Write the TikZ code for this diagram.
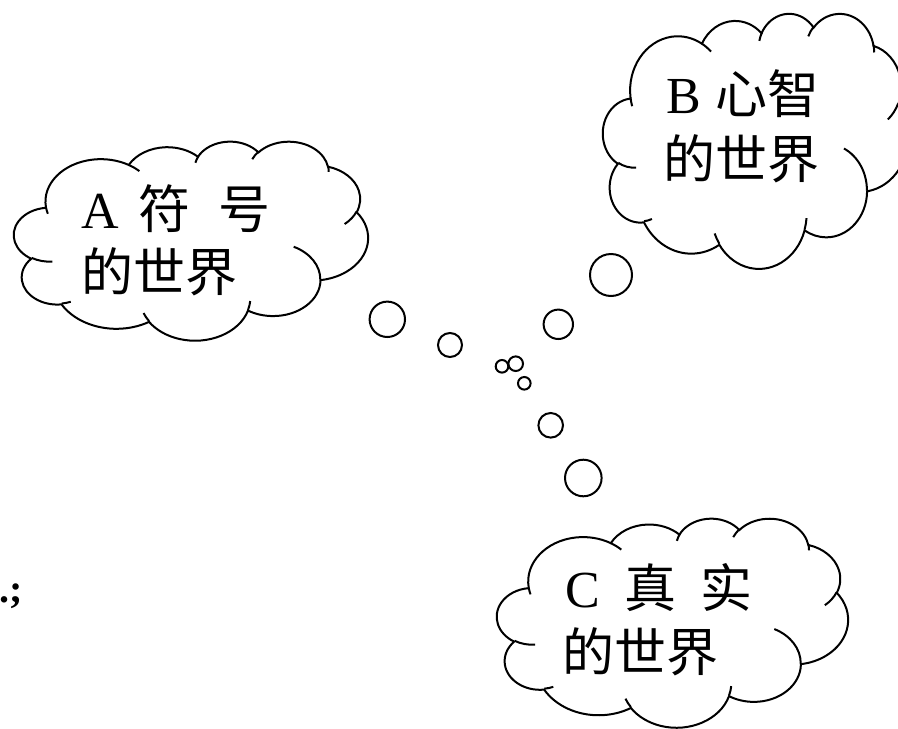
\documentclass[tikz,border=0pt]{standalone}
\usepackage{fontspec}
\setmainfont{Liberation Serif}
\IfFontExistsTF{FandolSong-Regular.otf}
  {\newfontfamily\cjk{FandolSong-Regular.otf}}
  {\newfontfamily\cjk{Noto Sans CJK SC}}
\usetikzlibrary{calc}
\tikzset{
  cloudline/.style={line width=1pt},
  bubble/.style={draw, circle, line width=1pt, inner sep=0pt},
  txt/.style={anchor=base west, inner sep=0pt, font=\fontsize{26}{30}\selectfont},
}
\newcommand\carc[4]{let \n1={atan2((#1)*sin(#3),(#2)*cos(#3))},
  \n2={atan2((#1)*sin((#3)+(#4)),(#2)*cos((#3)+(#4)))},
  \n3={(\n2)-(\n1)+360*round(((#4)-(\n2)+(\n1))/360)} in
  arc[x radius=#1, y radius=#2, start angle=\n1, delta angle=\n3]}
\newcommand\thoughtcloud[4]{%
  \pgfmathsetmacro\cloudw{#3/864}%
  \pgfmathsetmacro\cloudh{#4/864}%
  \begin{scope}[shift={(#1,#2)}, x=\cloudw pt, y=-\cloudh pt]
    \draw[cloudline] (39.00,143.70) \carc{67.53}{91.90}{-190.4875}{123.7805}
      \carc{53.33}{72.67}{-144.1024}{89.9452} \carc{43.65}{59.45}{-145.8079}{99.7230}
      \carc{48.57}{65.95}{-130.9861}{117.2417} \carc{53.33}{72.73}{-78.7089}{109.0269}
      \carc{67.75}{92.20}{-46.2673}{130.2690} \carc{57.85}{78.67}{0.6250}{114.0333}
      \carc{67.52}{92.15}{22.4516}{115.1726} \carc{77.20}{105.43}{66.2426}{75.7110}
      \carc{43.60}{59.18}{-274.9421}{146.7356} \carc{43.45}{59.45}{-246.8285}{152.5189} -- cycle;
    \draw[cloudline] (46.93,261.77) \carc{43.45}{59.45}{86.742}{26.4295}
      (69.28,348.99) \carc{43.60}{59.18}{73.6105}{11.4475}
      (164.78,390.90) \carc{67.52}{92.15}{137.6242}{14.0811}
      (288.27,347.51) \carc{67.52}{92.15}{6.4533}{15.9984}
      (341.29,229.54) \carc{57.85}{78.67}{-70.2924}{70.9174}
      (417.98,153.54) \carc{53.33}{72.73}{30.3180}{27.7515}
      (383.24,54.26) \carc{48.57}{65.95}{-13.7443}{14.8589}
      (290.78,39.52) \carc{48.57}{65.95}{-149.1815}{18.1954}
      (221.41,47.20) \carc{43.65}{59.45}{-163.4943}{17.6864}
      (140.00,51.92) \carc{67.53}{91.90}{-66.7070}{12.3194}
      (41.27,157.89) \carc{67.53}{91.90}{157.6544}{11.8582};
  \end{scope}}
\begin{document}
\begin{tikzpicture}[x=0.5pt, y=-0.5pt]
\useasboundingbox (0,0) rectangle (898,728);
\clip (0,0) rectangle (898,728);
\thoughtcloud{14}{141}{354}{199}
\thoughtcloud{603}{13}{305}{255}
\thoughtcloud{497}{518}{351}{209}
\node[txt] (symtop) at (81,228) {A\hspace{10pt}{\cjk 符}\hspace{14pt}{\cjk 号}};
\node[txt] (symbot) at (81,291) {{\cjk 的世界}};
\node[txt] (mindtop) at (666,113) {B\hspace{7pt}{\cjk 心智}};
\node[txt] (mindbot) at (663,178) {{\cjk 的世界}};
\node[txt] (realtop) at (565.5,607) {C\hspace{12pt}{\cjk 真}\hspace{12pt}{\cjk 实}};
\node[txt] (realbot) at (562,671) {{\cjk 的世界}};
\node[anchor=base west, inner sep=0pt, font=\bfseries\fontsize{20}{24}\selectfont] (semi) at (-1,602) {.;};
\node[bubble, minimum size=17.7pt] (b1) at (387.3,319.3) {};
\node[bubble, minimum size=12pt] (b2) at (450,345) {};
\node[bubble, minimum size=6.3pt] (b3) at (502,366.3) {};
\node[bubble, minimum size=7.3pt] (b4) at (515.7,363.7) {};
\node[bubble, minimum size=6.3pt] (b5) at (524.3,383.3) {};
\node[bubble, minimum size=14.7pt] (b6) at (558.3,324.3) {};
\node[bubble, minimum size=21pt] (b7) at (611,275) {};
\node[bubble, minimum size=12.3pt] (b8) at (550.7,425.3) {};
\node[bubble, minimum size=18.3pt] (b9) at (583.3,478) {};
\end{tikzpicture}
\end{document}
